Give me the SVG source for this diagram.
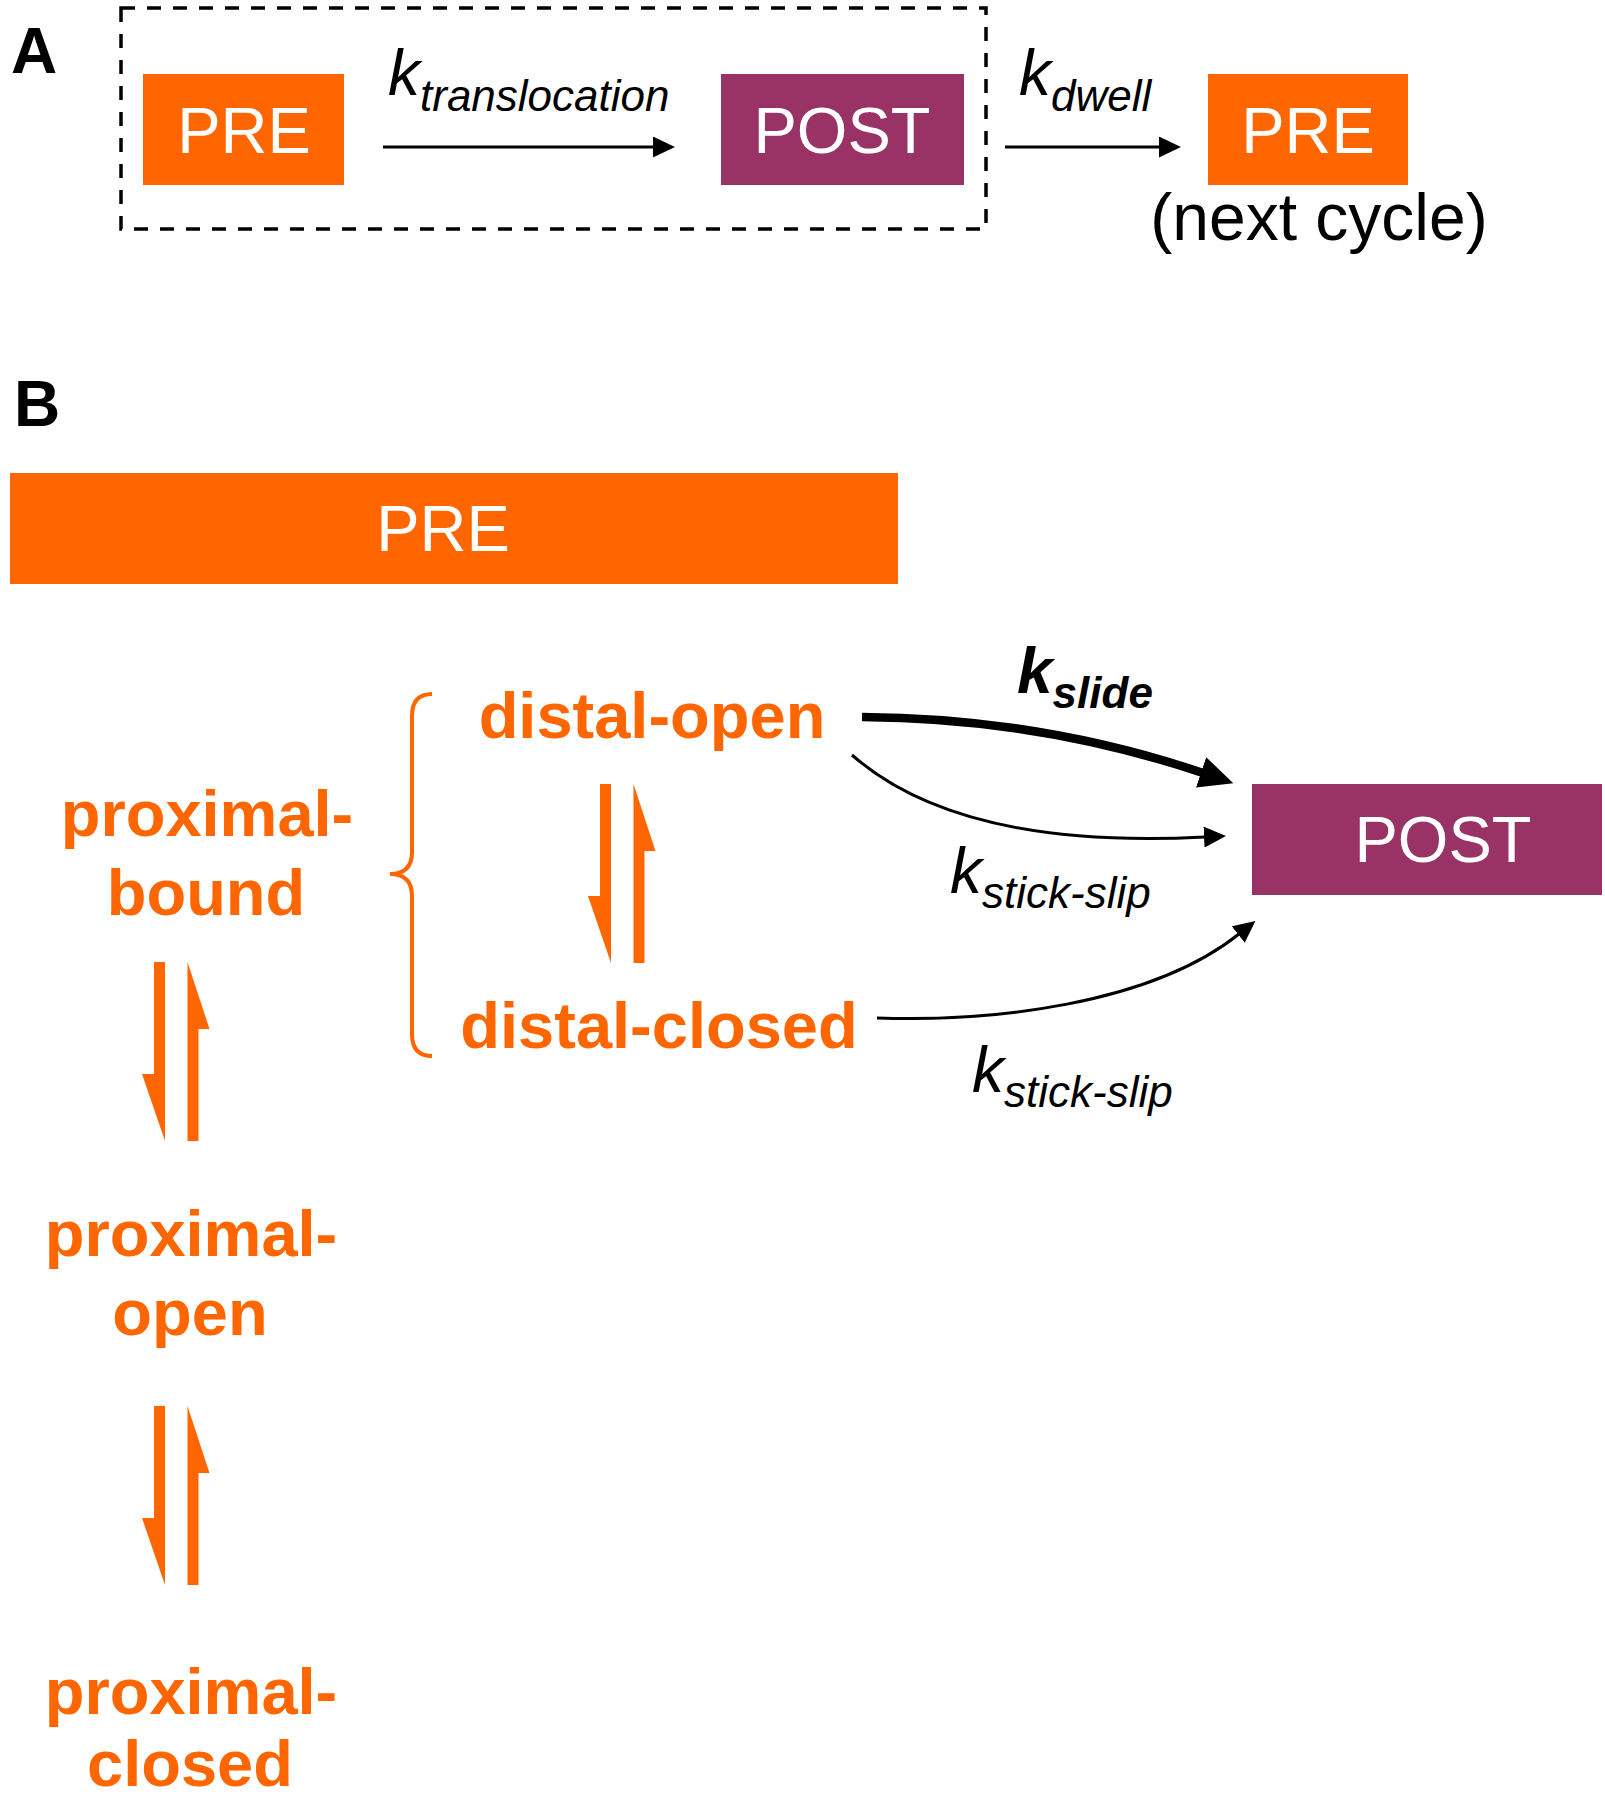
<svg xmlns="http://www.w3.org/2000/svg" width="1605" height="1800" viewBox="0 0 1605 1800">
<style>
  .pre { fill: #FF6600; }
  .post { fill: #993366; }
  .box-label { font-family: "Liberation Sans", Arial, sans-serif; font-size: 65px; fill: #FFFFFF; text-anchor: middle; }
  .panel { font-family: "Liberation Sans", Arial, sans-serif; font-size: 64px; font-weight: bold; fill: #000000; }
  .state { font-family: "Liberation Sans", Arial, sans-serif; font-size: 65px; font-weight: bold; fill: #FF6600; text-anchor: middle; }
  .rate { font-family: "Liberation Sans", Arial, sans-serif; font-size: 64px; font-style: italic; fill: #000000; }
  .rate .sub { font-size: 44px; }
  .rate-bold { font-weight: bold; }
  .plain { font-family: "Liberation Sans", Arial, sans-serif; font-size: 66px; fill: #000000; text-anchor: middle; }
  .conn { fill: none; stroke: #000000; stroke-width: 3; }
  .conn-thick { fill: none; stroke: #000000; stroke-width: 8.5; }
  .eq { fill: #FF6600; }
</style>
<defs>
  <marker id="head" markerUnits="userSpaceOnUse" markerWidth="22" markerHeight="21" refX="1" refY="10.5" orient="auto">
    <path d="M0,0 L22,10.5 L0,21 Z" fill="#000000"/>
  </marker>
  <marker id="head-thick" markerUnits="userSpaceOnUse" markerWidth="34" markerHeight="32" refX="2" refY="16" orient="auto">
    <path d="M0,0 L34,16 L0,32 Z" fill="#000000"/>
  </marker>
  <g id="equilibrium">
    <polygon points="0,0 11,0 11,179 -12,112 0,112"/>
    <polygon points="33.5,179 44.5,179 44.5,67 55.5,67 33.5,0"/>
  </g>
</defs>

<!-- Panel A -->
<text id="label-A" class="panel" x="11" y="73">A</text>
<rect id="cycle-frame" x="121" y="8" width="865" height="221" fill="none" stroke="#000000" stroke-width="3.5" stroke-dasharray="14,12"/>

<g id="A-pre">
  <rect class="pre" x="143" y="74" width="201" height="111"/>
  <text class="box-label" x="244" y="153">PRE</text>
</g>
<g id="A-post">
  <rect class="post" x="721" y="74" width="243" height="111"/>
  <text class="box-label" x="842" y="153">POST</text>
</g>
<g id="A-pre-next">
  <rect class="pre" x="1208" y="74" width="200" height="111"/>
  <text class="box-label" x="1308" y="153">PRE</text>
  <text class="plain" x="1319" y="240">(next cycle)</text>
</g>

<!-- Panel B -->
<text id="label-B" class="panel" x="14" y="426">B</text>

<g id="B-pre">
  <rect class="pre" x="10" y="473" width="888" height="111"/>
  <text class="box-label" x="443" y="551">PRE</text>
</g>
<g id="B-post">
  <rect class="post" x="1252" y="784" width="350" height="111"/>
  <text class="box-label" x="1443" y="862">POST</text>
</g>

<g id="proximal-bound">
  <text class="state" x="207" y="836">proximal-</text>
  <text class="state" x="206" y="915">bound</text>
</g>
<g id="proximal-open">
  <text class="state" x="191" y="1256">proximal-</text>
  <text class="state" x="190" y="1335">open</text>
</g>
<g id="proximal-closed">
  <text class="state" x="191" y="1714">proximal-</text>
  <text class="state" x="190" y="1786">closed</text>
</g>
<g id="distal-open">
  <text class="state" x="652" y="738">distal-open</text>
</g>
<g id="distal-closed">
  <text class="state" x="659" y="1048">distal-closed</text>
</g>
<g id="brace">
  <path d="M432,694 C418,694 412,702 412,716 L412,852 C412,866 405,874 390,874 C405,874 412,882 412,896 L412,1034 C412,1048 418,1056 432,1056" fill="none" stroke="#FF6600" stroke-width="4"/>
</g>

<!-- Connectors -->
<g id="connectors">
  <line class="conn" x1="383" y1="147" x2="654" y2="147" marker-end="url(#head)"/>
  <line class="conn" x1="1005" y1="147" x2="1160" y2="147" marker-end="url(#head)"/>
  <path class="conn-thick" d="M862,717 Q1040,718 1203,773" marker-end="url(#head-thick)"/>
  <path class="conn" d="M852,755 Q960,850 1205,837" marker-end="url(#head)"/>
  <path class="conn" d="M877,1018 C990,1022 1150,1005 1239,934" marker-end="url(#head)"/>
  <use href="#equilibrium" class="eq" x="600" y="784"/>
  <use href="#equilibrium" class="eq" x="154" y="962"/>
  <use href="#equilibrium" class="eq" x="154" y="1406"/>
</g>

<!-- Rate labels -->
<g id="rate-labels">
  <text class="rate" x="388" y="95">k<tspan class="sub" dy="16">translocation</tspan></text>
  <text class="rate" x="1019" y="95">k<tspan class="sub" dy="16">dwell</tspan></text>
  <text class="rate rate-bold" x="1017" y="693" font-size="66">k<tspan class="sub" dy="15">slide</tspan></text>
  <text class="rate" x="950" y="893">k<tspan class="sub" dy="15">stick-slip</tspan></text>
  <text class="rate" x="972" y="1092">k<tspan class="sub" dy="15">stick-slip</tspan></text>
</g>
</svg>
